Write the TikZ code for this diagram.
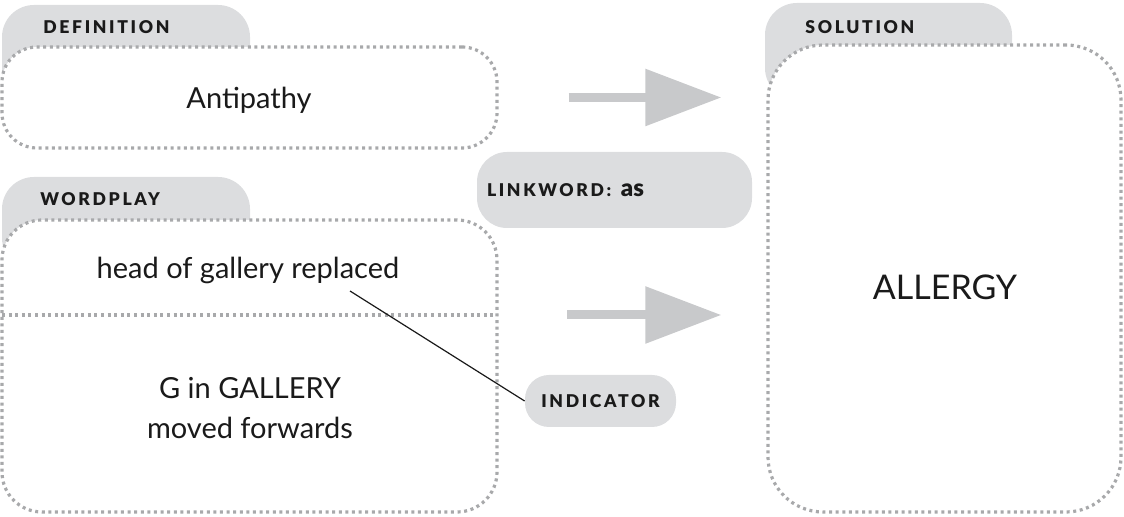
\documentclass[tikz,border=0pt]{standalone}
\usepackage{fontspec}
\setmainfont{Lato}
\newfontfamily\tabfont{Lato}[LetterSpace=15, BoldFont={Lato Black}]
\newfontfamily\heavyfont{Lato Black}
\usetikzlibrary{arrows.meta}
\definecolor{TabGray}{RGB}{220,221,223}
\definecolor{DotGray}{RGB}{168,169,171}
\definecolor{ArrowGray}{RGB}{200,201,203}
\definecolor{InkBlack}{RGB}{26,26,26}

\begin{document}
\begin{tikzpicture}[
    x=0.5pt,
    y=-0.5pt,
    font=\fontsize{14.5}{20}\selectfont,
    text=InkBlack,
    tab/.style={
        fill=TabGray,
        rounded corners=16pt,
        minimum width=124pt,
        inner sep=0pt
    },
    tablabel/.style={
        anchor=west,
        inner sep=0pt,
        font=\tabfont\bfseries\fontsize{8.8}{10}\selectfont
    },
    dotbox/.style={
        draw=DotGray,
        fill=white,
        line width=1.6pt,
        dash pattern=on 1.5pt off 1.8pt,
        inner sep=0pt,
        align=center
    },
    dotline/.style={
        draw=DotGray,
        line width=1.6pt,
        dash pattern=on 1.5pt off 1.8pt
    },
    pill/.style={
        fill=TabGray,
        inner sep=0pt
    },
    bigarrow/.style={
        draw=ArrowGray,
        line width=4.5pt,
        -{Triangle[length=38pt,width=27.5pt]}
    },
    pointer/.style={
        draw=InkBlack,
        line width=0.6pt
    }
]
\useasboundingbox (0,0) rectangle (1124,517);

\node[tab, minimum height=47.5pt] (deftab) at (126,52.5) {};
\node[tab, minimum height=46.5pt] (wptab) at (126,223.5) {};
\node[tab, minimum width=123.5pt, minimum height=48.5pt] (soltab) at (888.5,51.5) {};

\node[tablabel] (deflabel) at (43,27) {DEFINITION};
\node[tablabel] (wplabel) at (40,199) {WORDPLAY};
\node[tablabel] (sollabel) at (805,27) {SOLUTION};

\node[dotbox, rounded corners=17.5pt, minimum width=247.5pt, minimum height=50.5pt] (defbox) at (249.5,97.5) {};
\node[dotbox, rounded corners=20pt, minimum width=247.5pt, minimum height=146pt] (wpbox) at (249.5,366) {};
\node[dotbox, rounded corners=27.5pt, minimum width=176.5pt, minimum height=233.5pt] (solbox) at (944.5,278.5) {};

\coordinate (divl) at (2,315);
\coordinate (divr) at (497,315);
\draw[dotline] (divl) -- (divr);

\node (clue) at (249,100) {Antipathy};
\node (hint) at (248,270) {head of gallery replaced};
\node[align=center] (fodder) at (250,408) {G in GALLERY\\moved forwards};
\node[font=\fontsize{17}{20}\selectfont] (answer) at (945,287) {ALLERGY};

\node[pill, rounded corners=15pt, minimum width=137.5pt, minimum height=38pt, text width=127.5pt, align=left] (link) at (614.5,190)
    {{\tabfont\bfseries\fontsize{8.8}{10}\selectfont LINKWORD:} {\heavyfont\fontsize{12}{12}\selectfont as}};
\node[pill, rounded corners=12pt, minimum width=75.5pt, minimum height=26pt, font=\tabfont\bfseries\fontsize{8.8}{10}\selectfont] (indicator) at (600.5,401) {INDICATOR};

\draw[bigarrow] ([xshift=35pt]defbox.east) -- ([xshift=-22.5pt]solbox.west |- defbox.east);
\draw[bigarrow] ([xshift=35pt]divr) -- ([xshift=-22.5pt]solbox.west |- divr);

\coordinate (tail) at (350,291);
\draw[pointer] (tail) -- (indicator.west);

\end{tikzpicture}
\end{document}
